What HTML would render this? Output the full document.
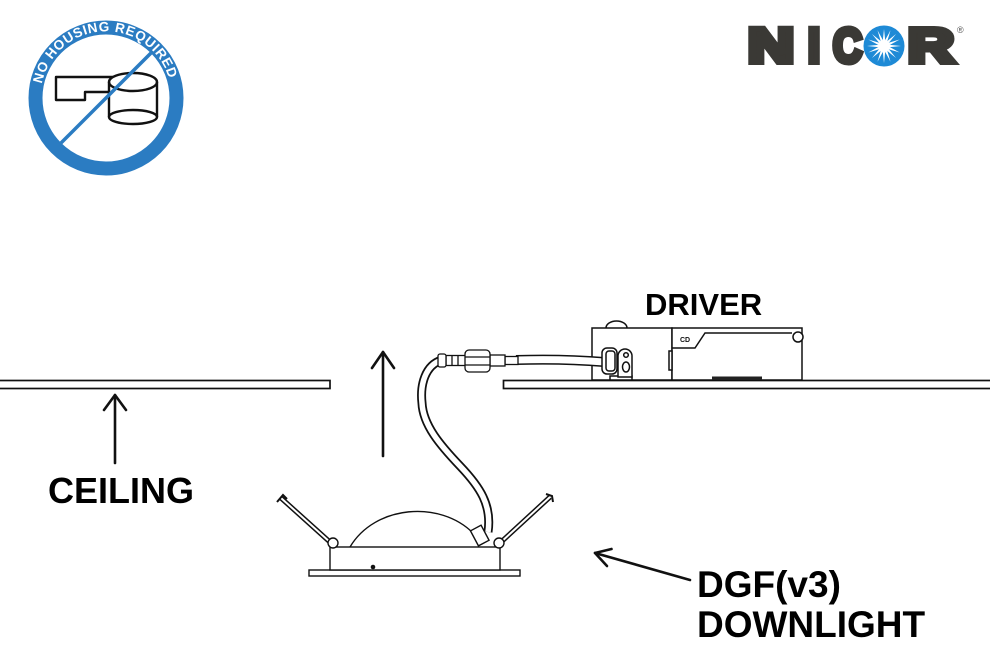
<!DOCTYPE html>
<html><head><meta charset="utf-8"><style>
html,body{margin:0;padding:0;background:#fff;}
svg{display:block;}
.t{font-family:"Liberation Sans",Arial,sans-serif;font-weight:bold;fill:#000;}
</style></head><body>
<svg width="990" height="656" viewBox="0 0 990 656" xmlns="http://www.w3.org/2000/svg">
<rect width="990" height="656" fill="#fff"/>

<!-- NO HOUSING badge -->
<defs>
<path id="arc" d="M41.8,83.8 A65.5,65.5 0 0 1 170.2,83.8"/>
</defs>
<circle cx="106" cy="98" r="70.5" fill="none" stroke="#2b7cc2" stroke-width="14"/>
<text font-family="Liberation Sans,Arial,sans-serif" font-weight="bold" font-size="13.5" fill="#fff"><textPath href="#arc" textLength="174" lengthAdjust="spacing">NO HOUSING REQUIRED</textPath></text>
<path d="M117 77 H56 V100 H85 V92 H112" fill="none" stroke="#111" stroke-width="2.4" stroke-linejoin="round"/>
<path d="M109 82 A24 9 0 0 1 157 82 V117 A24 7 0 0 1 109 117 Z" fill="#fff" stroke="#111" stroke-width="2.4"/>
<path d="M109 82 A24 9 0 0 0 157 82" fill="none" stroke="#111" stroke-width="2.4"/>
<path d="M109 117 A24 7 0 0 1 157 117" fill="none" stroke="#111" stroke-width="2.4"/>
<line x1="61" y1="143" x2="151" y2="53" stroke="#2b7cc2" stroke-width="3.5"/>

<!-- NICOR logo -->
<g fill="#3a3935" stroke="#3a3935" stroke-width="6" stroke-linejoin="miter" font-family="Liberation Sans,Arial,sans-serif" font-weight="bold" font-size="48">
<text x="748" y="62" textLength="46" lengthAdjust="spacingAndGlyphs">N</text>
<text x="808" y="62" textLength="12" lengthAdjust="spacingAndGlyphs">I</text>
<text x="833" y="62" textLength="29" lengthAdjust="spacingAndGlyphs">C</text>
<text x="908" y="62" textLength="46" lengthAdjust="spacingAndGlyphs">R</text>
</g>
<circle cx="884" cy="46" r="20.5" fill="#1e8ad6"/>
<g fill="#fff" transform="translate(884 46)">
<polygon points="0,-17 1.8,0 0,17 -1.8,0"/>
<polygon points="0,-17 1.8,0 0,17 -1.8,0" transform="rotate(22.5)"/>
<polygon points="0,-17 1.8,0 0,17 -1.8,0" transform="rotate(45)"/>
<polygon points="0,-17 1.8,0 0,17 -1.8,0" transform="rotate(67.5)"/>
<polygon points="0,-17 1.8,0 0,17 -1.8,0" transform="rotate(90)"/>
<polygon points="0,-17 1.8,0 0,17 -1.8,0" transform="rotate(112.5)"/>
<polygon points="0,-17 1.8,0 0,17 -1.8,0" transform="rotate(135)"/>
<polygon points="0,-17 1.8,0 0,17 -1.8,0" transform="rotate(157.5)"/>
<circle r="4.5"/>
</g>
<text x="957" y="33" font-family="Liberation Sans,Arial,sans-serif" font-size="9" fill="#555">®</text>

<!-- Ceilings -->
<rect x="-2" y="380.5" width="332" height="8" fill="none" stroke="#111" stroke-width="1.7"/>
<rect x="503.5" y="380.5" width="490" height="8" fill="none" stroke="#111" stroke-width="1.7"/>

<!-- Arrows -->
<g stroke="#111" stroke-width="2.6" fill="none" stroke-linecap="round" stroke-linejoin="round">
<line x1="115" y1="395" x2="115" y2="463"/>
<polyline points="104,410 115,395 126,410"/>
<line x1="383" y1="352" x2="383" y2="456"/>
<polyline points="372,368 383,352 394,368"/>
<line x1="690" y1="580" x2="595" y2="553"/>
<polyline points="611.5,549 595,553 607,566"/>
</g>

<!-- Labels -->
<text class="t" x="48" y="503" font-size="36">CEILING</text>
<text class="t" x="645" y="315" font-size="31">DRIVER</text>
<text class="t" x="697" y="597" font-size="37">DGF(v3)</text>
<text class="t" x="697" y="637" font-size="37">DOWNLIGHT</text>

<!-- Driver -->
<g stroke="#111" stroke-width="1.5" fill="#fff">
<path d="M606 328 A10.5 7 0 0 1 627 328" />
<rect x="592" y="328" width="80" height="52"/>
<rect x="672" y="328" width="130" height="52"/>
<path d="M672 348 H695 L705 333 H792" fill="none"/>
<circle cx="798" cy="337" r="5"/>
<rect x="669" y="351" width="3" height="19" fill="#fff"/>
</g>
<rect x="712" y="376.5" width="50" height="3.5" fill="#222"/>
<text x="680" y="342" font-family="Liberation Sans,Arial,sans-serif" font-weight="bold" font-size="7" fill="#111">CD</text>

<!-- cable to driver -->
<path d="M516 360 C 550 359, 580 360, 604 362" fill="none" stroke="#111" stroke-width="10"/>
<path d="M516 360 C 550 359, 580 360, 604 362" fill="none" stroke="#fff" stroke-width="7"/>

<!-- driver gland & bracket -->
<g stroke="#111" stroke-width="1.5" fill="#fff">
<rect x="610" y="376" width="22" height="4"/>
<path d="M618 377 V356 A7 7 0 0 1 632 356 V377 Z"/>
<circle cx="626" cy="355" r="2.3"/>
<ellipse cx="626" cy="367" rx="3.5" ry="5"/>
<rect x="602" y="348" width="15" height="26" rx="5"/>
<rect x="606" y="351" width="9" height="20" rx="3"/>
</g>

<!-- main cable -->
<path d="M442 360 C 425 365, 420 385, 422 403 C 423 425, 440 445, 460 466 C 480 487, 492 505, 488 532" fill="none" stroke="#111" stroke-width="9"/>
<path d="M442 360 C 425 365, 420 385, 422 403 C 423 425, 440 445, 460 466 C 480 487, 492 505, 488 532" fill="none" stroke="#fff" stroke-width="5.5"/>

<!-- connector -->
<g stroke="#111" stroke-width="1.3" fill="#fff">
<rect x="505" y="356.5" width="13" height="8"/>
<rect x="490" y="355" width="15" height="11"/>
<rect x="446" y="355.5" width="20" height="10"/>
<line x1="452" y1="355.5" x2="452" y2="365.5"/>
<line x1="458" y1="355.5" x2="458" y2="365.5"/>
<rect x="438" y="354" width="8" height="13" rx="2"/>
<rect x="465" y="350" width="25" height="22" rx="4"/>
<line x1="465" y1="357" x2="490" y2="357"/>
<line x1="465" y1="365" x2="490" y2="365"/>
</g>

<!-- Light fixture -->
<g stroke="#111" stroke-width="1.4" fill="#fff">
<line x1="281" y1="498" x2="331" y2="543" stroke-width="5"/>
<line x1="281" y1="498" x2="331" y2="543" stroke="#fff" stroke-width="2"/>
<line x1="550" y1="497" x2="500" y2="543" stroke-width="5"/>
<line x1="550" y1="497" x2="500" y2="543" stroke="#fff" stroke-width="2"/>
<path d="M277 502 L283 495 L287 499" fill="none" stroke-width="2"/>
<path d="M546 494 L552 496 L553 502" fill="none" stroke-width="2"/>
<rect x="309" y="570" width="211" height="6"/>
<rect x="330" y="547" width="170" height="23"/>
<path d="M350 547 C 375 505, 440 500, 473 533" fill="none"/>
<circle cx="333" cy="543" r="5"/>
<circle cx="499" cy="543" r="5"/>
<rect x="474" y="527" width="12" height="17" transform="rotate(-28 480 536)"/>
</g>
<circle cx="373" cy="567" r="2.3" fill="#111"/>
</svg>
</body></html>
